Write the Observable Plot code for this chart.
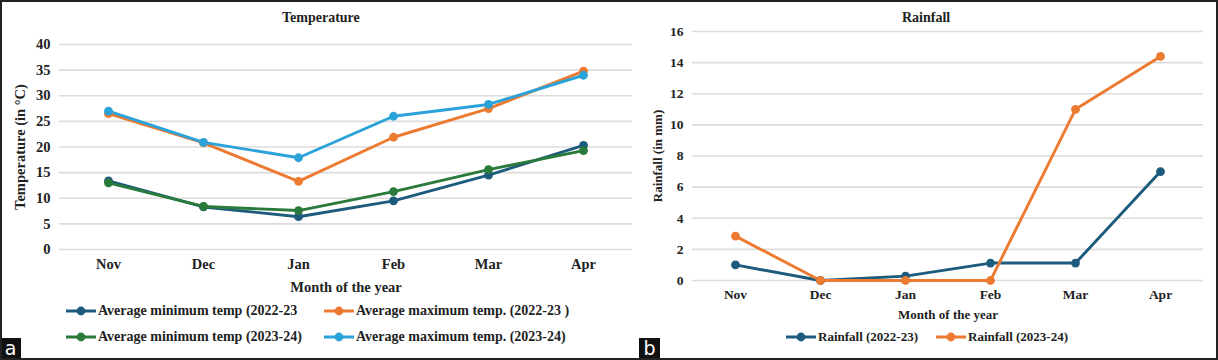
<!DOCTYPE html>
<html>
<head>
<meta charset="utf-8">
<script src="https://cdn.jsdelivr.net/npm/d3@7"></script>
<script src="https://cdn.jsdelivr.net/npm/@observablehq/plot@0.6"></script>
<style>
  html, body { margin: 0; padding: 0; background: #fff; }
  #wrap { position: relative; width: 1218px; height: 360px; box-sizing: border-box; border: 2px solid #222; overflow: hidden; background: #fff;
          font-family: "Liberation Serif", "Times New Roman", serif; font-weight: bold; color: #222; }
  .abs { position: absolute; }
  .title { font-size: 14px; font-weight: bold; white-space: nowrap; }
  .leg { font-size: 14px; font-weight: bold; white-space: nowrap; display: flex; align-items: center; }
  .leg svg { margin-right: 2px; }
  .leg.small { font-size: 13px; }
  .tag { background: #111; color: #fff; font-family: "DejaVu Sans", Arial, sans-serif; font-weight: normal; font-size: 19px; width: 21px; height: 22px; line-height: 20px; text-align: center; }
</style>
</head>
<body>
<div id="wrap"></div>
<script>
// ---- data ----
const months = ["Nov", "Dec", "Jan", "Feb", "Mar", "Apr"];
const minTemp2223 = [13.4, 8.3, 6.4, 9.5, 14.5, 20.3];
const maxTemp2223 = [26.5, 20.8, 13.3, 21.9, 27.5, 34.8];
const minTemp2324 = [13.0, 8.4, 7.6, 11.3, 15.6, 19.3];
const maxTemp2324 = [27.0, 20.9, 17.9, 26.0, 28.3, 34.0];
const rain2223 = [1.0, 0, 0.28, 1.12, 1.12, 7.0];
const rain2324 = [2.85, 0, 0, 0, 11.0, 14.4];
const tempTicks = [0, 5, 10, 15, 20, 25, 30, 35, 40];
const rainTicks = [0, 2, 4, 6, 8, 10, 12, 14, 16];
const tempSeries = ["Average minimum temp (2022-23", "Average maximum temp. (2022-23 )", "Average minimum temp (2023-24)", "Average maximum temp. (2023-24)"];
const tempColors = ["#1d5b7c", "#ec7a31", "#2a7a3b", "#2ba2d8"];
const rainSeries = ["Rainfall (2022-23)", "Rainfall (2023-24)"];
const rainColors = ["#1d5b7c", "#ec7a31"];

const tempValues = [minTemp2223, maxTemp2223, minTemp2324, maxTemp2324];
const rainValues = [rain2223, rain2324];
const tempData = tempSeries.flatMap((s, i) => months.map((m, j) => ({series: s, month: m, value: tempValues[i][j]})));
const rainData = rainSeries.flatMap((s, i) => months.map((m, j) => ({series: s, month: m, value: rainValues[i][j]})));

const wrap = document.getElementById("wrap");
const style = {fontFamily: "'Liberation Serif', 'Times New Roman', serif", fontSize: "13px", fontWeight: "bold", color: "#222", background: "transparent", overflow: "visible"};

function makeChart({data, series, colors, ticks, ymax, ylabel, width, height, ml, mr, mt, mb, yLabelOffset, xLabelOffset, tickFont, labelFont}) {
  return Plot.plot({
    width, height,
    marginLeft: ml, marginRight: mr, marginTop: mt, marginBottom: mb,
    style,
    x: {type: "point", domain: months, padding: 0.5},
    y: {domain: [0, ymax]},
    color: {domain: series, range: colors},
    marks: [
      Plot.gridY(ticks, {stroke: "#dcdcdc", strokeOpacity: 1, strokeWidth: 1.6}),
      Plot.axisY(ticks, {tickSize: 0, tickPadding: 9, fontSize: tickFont, label: null}),
      Plot.axisY(ticks, {tickSize: 0, text: null, label: ylabel, labelAnchor: "center", labelArrow: "none", labelOffset: yLabelOffset, fontSize: labelFont}),
      Plot.axisX({tickSize: 0, tickPadding: 9, fontSize: tickFont, label: null}),
      Plot.axisX({tickSize: 0, text: null, label: "Month of the year", labelAnchor: "center", labelArrow: "none", labelOffset: xLabelOffset, fontSize: labelFont}),
      Plot.line(data, {x: "month", y: "value", z: "series", stroke: "series", strokeWidth: 2.9}),
      Plot.dot(data, {x: "month", y: "value", fill: "series", r: 4.4})
    ]
  });
}

const left = makeChart({data: tempData, series: tempSeries, colors: tempColors, ticks: tempTicks, ymax: 40,
  ylabel: "Temperature (in °C)", width: 640, height: 300, ml: 59, mr: 8, mt: 44, mb: 51, yLabelOffset: 45, xLabelOffset: 42,
  tickFont: 14.5, labelFont: 14.5});
left.classList.add("abs"); left.style.left = "-2px"; left.style.top = "-2px";
wrap.appendChild(left);

const right = makeChart({data: rainData, series: rainSeries, colors: rainColors, ticks: rainTicks, ymax: 16,
  ylabel: "Rainfall (in mm)", width: 600, height: 325, ml: 82, mr: 7, mt: 31, mb: 45, yLabelOffset: 40, xLabelOffset: 38,
  tickFont: 13.5, labelFont: 13});
right.classList.add("abs"); right.style.left = "608px"; right.style.top = "-2px";
wrap.appendChild(right);

function addText(cls, text, x, y) {
  const d = document.createElement("div");
  d.className = "abs " + cls; d.textContent = text;
  d.style.left = x + "px"; d.style.top = y + "px";
  wrap.appendChild(d);
  return d;
}
addText("title", "Temperature", 280, 8);
addText("title", "Rainfall", 900, 8);

function addLegend(label, color, x, y, small) {
  const d = document.createElement("div");
  d.className = "abs leg" + (small ? " small" : "");
  d.style.left = x + "px"; d.style.top = y + "px";
  const svg = d3.create("svg").attr("width", 30).attr("height", 12);
  svg.append("line").attr("x1", 0).attr("x2", 30).attr("y1", 6).attr("y2", 6).attr("stroke", color).attr("stroke-width", 3);
  svg.append("circle").attr("cx", 15).attr("cy", 6).attr("r", 4.4).attr("fill", color);
  d.appendChild(svg.node());
  const s = document.createElement("span"); s.textContent = label; d.appendChild(s);
  wrap.appendChild(d);
}
addLegend(tempSeries[0], tempColors[0], 64, 301, false);
addLegend(tempSeries[1], tempColors[1], 322, 301, false);
addLegend(tempSeries[2], tempColors[2], 64, 327, false);
addLegend(tempSeries[3], tempColors[3], 322, 327, false);
addLegend(rainSeries[0], rainColors[0], 784, 327, true);
addLegend(rainSeries[1], rainColors[1], 934, 327, true);

addText("tag", "a", -2, 336);
addText("tag", "b", 637, 336);
</script>
</body>
</html>
